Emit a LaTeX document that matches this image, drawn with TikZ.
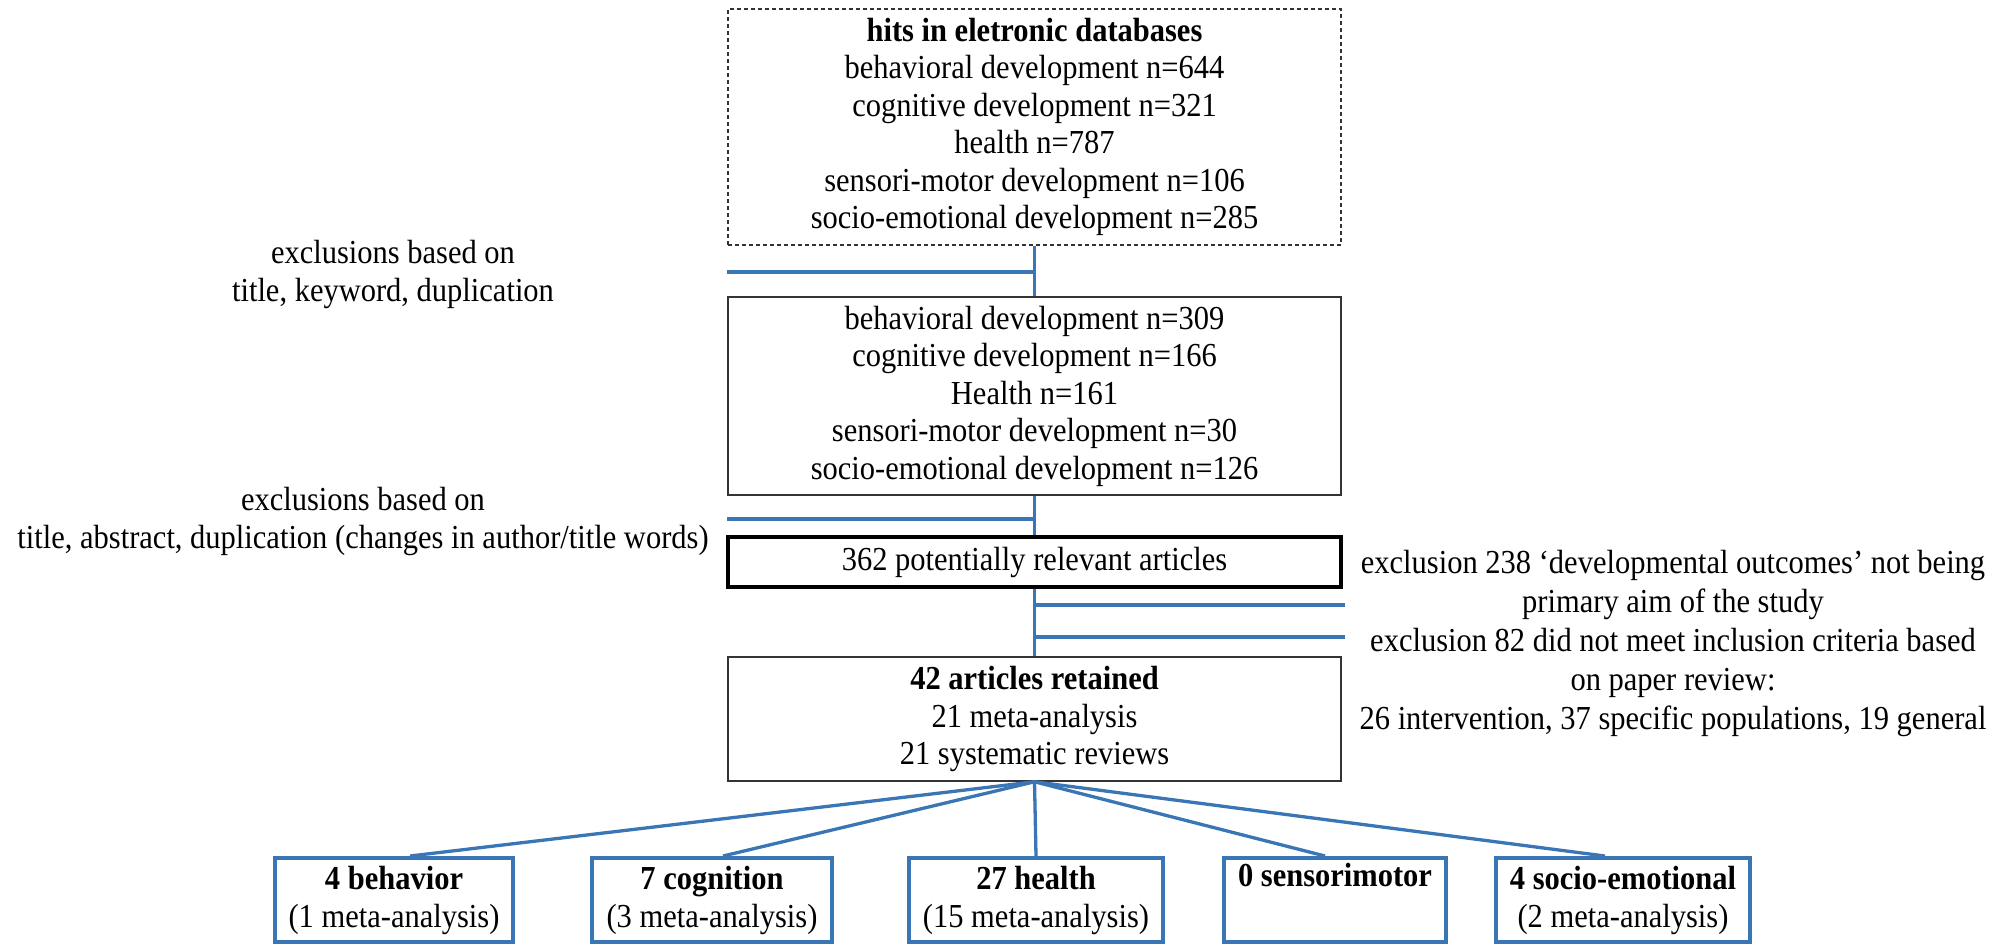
\documentclass[tikz,border=0pt]{standalone}
\usepackage{fontspec}
\usepackage{graphicx}
\setmainfont{Liberation Serif}
\usetikzlibrary{calc}
\definecolor{conn}{HTML}{3A76B6}
\newcommand\stretchln[1]{\scalebox{1}[1.1]{#1}}
\begin{document}
\begin{tikzpicture}[x=1pt,y=-1pt,
  txt/.style={font=\fontsize{30.5}{37.5}\selectfont, align=center, inner sep=0pt},
  mainbox/.style={txt, draw=black!80, line width=1.5pt, minimum width=613pt},
  catbox/.style={txt, font=\fontsize{30.5}{38}\selectfont, draw=conn, line width=4pt, minimum height=84pt},
  connector/.style={draw=conn, line width=3.5pt},
  fanline/.style={draw=conn, line width=3.3pt}
]
\useasboundingbox (0,0) rectangle (2009,946);

% main column
\node[mainbox, dash pattern=on 4pt off 3pt, minimum height=236pt] (hits) at (1034.5,127)
  {\stretchln{\textbf{hits in eletronic databases}}\\
   \stretchln{behavioral development n=644}\\
   \stretchln{cognitive development n=321}\\
   \stretchln{health n=787}\\
   \stretchln{sensori-motor development n=106}\\
   \stretchln{socio-emotional development n=285}};

\node[mainbox, minimum height=198pt] (screen) at (1034.5,396)
  {\stretchln{behavioral development n=309}\\
   \stretchln{cognitive development n=166}\\
   \stretchln{Health n=161}\\
   \stretchln{sensori-motor development n=30}\\
   \stretchln{socio-emotional development n=126}};

\node[mainbox, draw=black, line width=3.6pt, minimum height=50pt] (relevant) at (1034.5,562)
  {\stretchln{362 potentially relevant articles}};

\node[mainbox, minimum height=124pt] (retained) at (1034.5,719)
  {\stretchln{\textbf{42 articles retained}}\\
   \stretchln{21 meta-analysis}\\
   \stretchln{21 systematic reviews}};

% side texts
\node[txt, font=\fontsize{30.5}{38}\selectfont] (ex1) at (393,274)
  {\stretchln{exclusions based on}\\\stretchln{title, keyword, duplication}};
\node[txt, font=\fontsize{30.5}{38}\selectfont] (ex2) at (363,521)
  {\stretchln{exclusions based on}\\\stretchln{title, abstract, duplication (changes in author/title words)}};
\node[txt, font=\fontsize{30.5}{39}\selectfont] (ex3) at (1673,643.5)
  {\stretchln{exclusion 238 `developmental outcomes' not being}\\
   \stretchln{primary aim of the study}\\
   \stretchln{exclusion 82 did not meet inclusion criteria based}\\
   \stretchln{on paper review:}\\
   \stretchln{26 intervention, 37 specific populations, 19 general}};

% category boxes
\node[catbox, minimum width=238pt] (c1) at (394,900)
  {\stretchln{\textbf{4 behavior}}\\\stretchln{(1 meta-analysis)}};
\node[catbox, minimum width=240pt] (c2) at (712,900)
  {\stretchln{\textbf{7 cognition}}\\\stretchln{(3 meta-analysis)}};
\node[catbox, minimum width=254pt] (c3) at (1036,900)
  {\stretchln{\textbf{27 health}}\\\stretchln{(15 meta-analysis)}};
\node[catbox, minimum width=222pt] (c4) at (1335,900)
  {\stretchln{\textbf{0 sensorimotor}}\\\stretchln{\strut}};
\node[catbox, minimum width=254pt] (c5) at (1623,900)
  {\stretchln{\textbf{4 socio-emotional}}\\\stretchln{(2 meta-analysis)}};

% connectors
\coordinate (j1) at (hits.south west |- 0,272);
\coordinate (j2) at (screen.south west |- 0,519);
\coordinate (r1) at ($(relevant.south east)+(2,16)$);
\coordinate (r2) at ($(relevant.south east)+(2,48)$);

\draw[connector] (hits.south) -- (screen.north);
\draw[connector] (j1) -- (hits.south |- j1);
\draw[connector] (screen.south) -- (relevant.north);
\draw[connector] (j2) -- (screen.south |- j2);
\draw[connector] (relevant.south) -- (retained.north);
\draw[connector] (relevant.south |- r1) -- (r1);
\draw[connector] (relevant.south |- r2) -- (r2);

\draw[fanline] (retained.south) -- ($(c1.north)+(16,0)$);
\draw[fanline] (retained.south) -- ($(c2.north)+(11,0)$);
\draw[fanline] (retained.south) -- (c3.north);
\draw[fanline] (retained.south) -- ($(c4.north)+(-10,0)$);
\draw[fanline] (retained.south) -- ($(c5.north)+(-18,0)$);
\end{tikzpicture}
\end{document}
